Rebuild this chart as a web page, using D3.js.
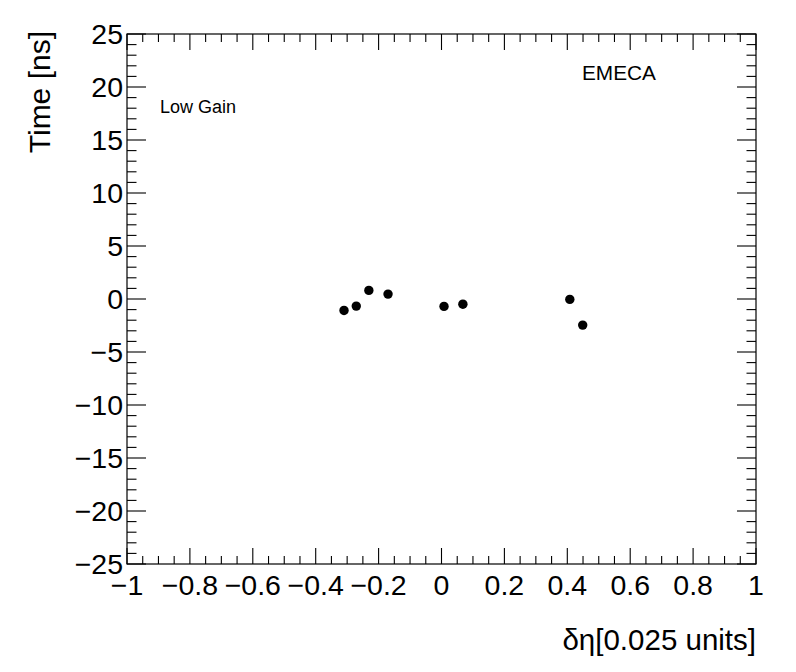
<!DOCTYPE html>
<html>
<head>
<meta charset="utf-8">
<script src="https://cdn.jsdelivr.net/npm/d3@7"></script>
<style>
  body { margin: 0; background: #fff; }
  text { font-family: "Liberation Sans", Arial, Helvetica, sans-serif; fill: #000; }
</style>
</head>
<body>
<div id="Chart"></div>
<script>
// data
var etaValues  = [-0.310, -0.271, -0.231, -0.170, 0.008, 0.068, 0.408, 0.449];
var timeValues = [-1.08, -0.67, 0.81, 0.46, -0.70, -0.49, -0.04, -2.46];
var xDomain = [-1, 1];
var yDomain = [-25, 25];

var width = 796, height = 672;
var margin = {top: 34, right: 40, bottom: 108, left: 127};

var svg = d3.select("#Chart")
            .append("svg")
            .attr("width", width)
            .attr("height", height);

var x = d3.scaleLinear().domain(xDomain).range([margin.left, width - margin.right]);
var y = d3.scaleLinear().domain(yDomain).range([height - margin.bottom, margin.top]);

var fmt = d3.format("~g");
var x0 = x.range()[0], x1 = x.range()[1];
var y0 = y.range()[0], y1 = y.range()[1];

// frame
svg.append("rect")
   .attr("x", x0).attr("y", y1)
   .attr("width", x1 - x0).attr("height", y0 - y1)
   .attr("fill", "none").attr("stroke", "#000").attr("stroke-width", 1.2);

var g = svg.append("g").attr("stroke", "#000").attr("stroke-width", 1.1);

// x ticks, bottom and top, pointing inside
var xMajor = x.ticks(10), xMinor = x.ticks(40);
xMinor.forEach(function(t){
    var isMajor = xMajor.some(m => Math.abs(m - t) < 1e-9);
    var len = isMajor ? 16 : 8;
    g.append("line").attr("x1", x(t)).attr("x2", x(t)).attr("y1", y0).attr("y2", y0 - len);
    g.append("line").attr("x1", x(t)).attr("x2", x(t)).attr("y1", y1).attr("y2", y1 + len);
});

// y ticks, left and right
var yMajor = y.ticks(10), yMinor = y.ticks(50);
yMinor.forEach(function(t){
    var isMajor = yMajor.some(m => Math.abs(m - t) < 1e-9);
    var len = isMajor ? 19 : 9.5;
    g.append("line").attr("y1", y(t)).attr("y2", y(t)).attr("x1", x0).attr("x2", x0 + len);
    g.append("line").attr("y1", y(t)).attr("y2", y(t)).attr("x1", x1).attr("x2", x1 - len);
});

// tick labels
svg.selectAll(".xlab")
   .data(xMajor)
   .enter().append("text")
   .attr("class", "xlab")
   .attr("x", d => x(d))
   .attr("y", y0 + 31)
   .attr("text-anchor", "middle")
   .attr("font-size", 28.5)
   .text(d => fmt(d));

svg.selectAll(".ylab")
   .data(yMajor)
   .enter().append("text")
   .attr("class", "ylab")
   .attr("x", x0 - 4)
   .attr("y", d => y(d))
   .attr("dy", "0.36em")
   .attr("text-anchor", "end")
   .attr("font-size", 28.5)
   .text(d => fmt(d));

// axis titles
svg.append("text")
   .attr("x", x1)
   .attr("y", 650)
   .attr("text-anchor", "end")
   .attr("font-size", 29.5)
   .text("\u03b4\u03b7[0.025 units]");

svg.append("text")
   .attr("transform", "translate(50," + (y1 - 3) + ") rotate(-90)")
   .attr("text-anchor", "end")
   .attr("font-size", 30)
   .text("Time [ns]");

// labels inside the pad
svg.append("text")
   .attr("x", 160).attr("y", 113)
   .attr("font-size", 18)
   .text("Low Gain");

svg.append("text")
   .attr("x", 582).attr("y", 80)
   .attr("font-size", 20.8)
   .text("EMECA");

// points
var points = etaValues.map((d, i) => ({eta: d, time: timeValues[i]}));
svg.selectAll(".node")
   .data(points)
   .enter().append("circle")
   .attr("class", "node")
   .attr("cx", d => x(d.eta))
   .attr("cy", d => y(d.time))
   .attr("r", 4.7)
   .attr("fill", "#000");
</script>
</body>
</html>
